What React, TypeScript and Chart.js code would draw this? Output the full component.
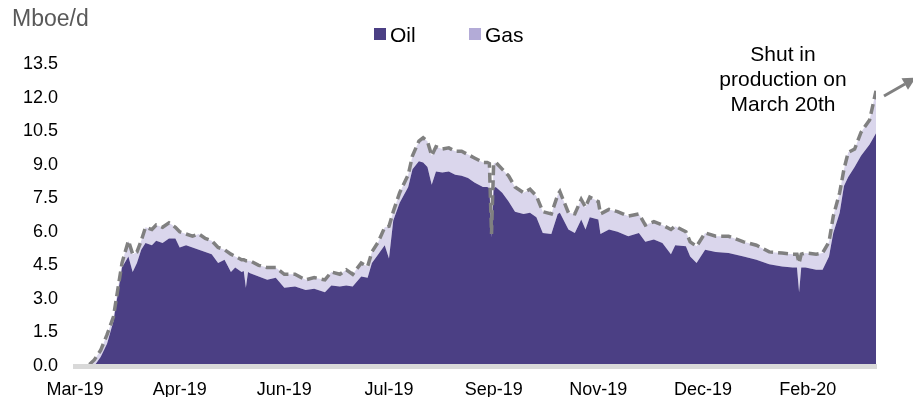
import { useEffect, useRef } from 'react';
import { Chart, registerables } from 'chart.js';

Chart.register(...registerables);

// ---- data ----
const tickLabels = ['Mar-19', 'Apr-19', 'Jun-19', 'Jul-19', 'Sep-19', 'Nov-19', 'Dec-19', 'Feb-20'];
const tickStepDays = 49;
const lastDay = 375;

const days = [
  0, 6, 9, 12, 15, 18, 20, 22, 25, 27,
  29, 31, 33, 36, 38, 41, 44, 47, 49, 52,
  55, 58, 61, 64, 67, 70, 73, 75, 78, 79,
  80, 81, 82, 86, 90, 94, 98, 103, 108, 112,
  117, 120, 124, 127, 130, 134, 137, 139, 142, 145,
  147, 149, 152, 156, 158, 161, 163, 165, 167, 169,
  172, 175, 178, 181, 184, 187, 191, 193, 194, 195,
  196, 197, 200, 203, 206, 210, 213, 216, 219, 223,
  226, 227, 231, 234, 237, 239, 241, 245, 246, 250,
  254, 259, 264, 267, 271, 275, 279, 281, 286, 288,
  291, 295, 300, 306, 313, 319, 325, 331, 336, 338,
  339, 340, 342, 347, 350, 353, 355, 358, 360, 362,
  365, 368, 372, 375,
];

const totalValues = [
  0, 0, 0.27, 0.7, 1.4, 2.2, 3.4, 4.6, 5.6, 5.0,
  5.1, 5.6, 6.2, 6.1, 6.3, 6.2, 6.4, 6.2, 6.0, 5.9,
  5.8, 5.9, 5.7, 5.6, 5.3, 5.2, 5.0, 4.9, 4.75, 4.75,
  4.7, 4.7, 4.7, 4.5, 4.4, 4.4, 4.1, 4.1, 3.85, 3.95,
  3.85, 4.2, 4.1, 4.3, 4.1, 4.6, 4.45, 5.1, 5.55, 6.2,
  6.25, 6.9, 7.75, 8.55, 9.4, 10.05, 10.2, 10.05, 9.4, 9.8,
  9.7, 9.75, 9.6, 9.6, 9.45, 9.3, 9.1, 9.1, 9.05, 5.9,
  9.05, 9.1, 8.8, 8.5, 8.0, 7.75, 7.9, 7.6, 6.9, 6.8,
  7.65, 7.8, 6.85, 6.8, 7.45, 7.1, 7.55, 7.35, 6.8, 7.0,
  6.9, 6.7, 6.8, 6.3, 6.45, 6.3, 6.1, 6.25, 6.0, 5.55,
  5.35, 5.95, 5.8, 5.8, 5.55, 5.4, 5.1, 5.05, 5.0, 5.0,
  4.6, 5.0, 5.05, 5.0, 5.05, 5.55, 6.7, 7.75, 8.8, 9.55,
  9.7, 10.45, 11.0, 12.3,
];

const oilValues = [
  0, 0, 0, 0.4, 1.0, 2.0, 3.2, 4.4, 4.9, 4.2,
  4.6, 5.2, 5.5, 5.4, 5.6, 5.5, 5.7, 5.7, 5.3, 5.4,
  5.3, 5.2, 5.1, 5.0, 4.6, 4.75, 4.2, 4.4, 4.2, 4.25,
  3.5, 4.2, 4.15, 4.0, 3.85, 3.95, 3.5, 3.55, 3.4, 3.45,
  3.3, 3.6, 3.55, 3.6, 3.55, 4.0, 3.95, 4.6, 5.0, 5.4,
  4.8, 6.5, 7.3, 8.0, 8.8, 9.15, 9.1, 8.9, 8.1, 8.7,
  8.65, 8.7, 8.55, 8.5, 8.4, 8.2, 8.0, 8.0, 7.95, 5.75,
  7.95, 8.0, 7.75, 7.35, 6.9, 6.8, 6.85, 6.65, 5.95, 5.9,
  6.8, 6.85, 6.1, 5.95, 6.55, 6.1, 6.65, 6.55, 5.9, 6.1,
  6.0, 5.8, 5.95, 5.55, 5.65, 5.5, 5.0, 5.4, 5.35, 4.9,
  4.6, 5.2, 5.1, 5.05, 4.9, 4.75, 4.55, 4.45, 4.4, 4.4,
  3.3, 4.4, 4.4, 4.3, 4.3, 4.9, 5.95, 6.85, 8.05, 8.45,
  8.9, 9.4, 9.9, 10.4,
];

const legendLabels = ['Oil', 'Gas'];
const unitLabel = 'Mboe/d';
const noteLines = ['Shut in', 'production on', 'March 20th'];

// ---- styles ----
const OIL = '#4B3F84';
const GAS_FILL = '#DAD6EC';
const GAS_KEY = '#B3ABD7';
const LINE = '#808080';
const AXIS = '#D9D9D9';
const FONT = "'Liberation Sans', Arial, Helvetica, sans-serif";

export default function App() {
  const ref = useRef<HTMLCanvasElement>(null);

  useEffect(() => {
    document.body.style.margin = '0';
    const canvas = ref.current;
    if (!canvas) return;

    const overlay = {
      id: 'overlay',
      afterDraw(chart: any) {
        const ctx = chart.ctx as CanvasRenderingContext2D;
        ctx.save();
        // unit label
        ctx.font = `23px ${FONT}`;
        ctx.fillStyle = '#595959';
        ctx.textAlign = 'left';
        ctx.textBaseline = 'alphabetic';
        ctx.fillText(unitLabel, 12, 26);

        // legend
        const keyColors = [OIL, GAS_KEY];
        const keyX = [374, 469];
        ctx.font = `21px ${FONT}`;
        legendLabels.forEach((lab, i) => {
          ctx.fillStyle = keyColors[i];
          ctx.fillRect(keyX[i], 28, 12, 12);
          ctx.fillStyle = '#000';
          ctx.fillText(lab, keyX[i] + 16, 42);
        });

        // note
        ctx.font = `21px ${FONT}`;
        ctx.textAlign = 'center';
        ctx.fillStyle = '#000';
        noteLines.forEach((t, i) => ctx.fillText(t, 783, 61 + i * 25));

        // arrow
        ctx.strokeStyle = LINE;
        ctx.fillStyle = LINE;
        ctx.lineWidth = 3;
        ctx.beginPath();
        ctx.moveTo(884, 96);
        ctx.lineTo(905, 84);
        ctx.stroke();
        const tip = { x: 916, y: 77.5 };
        const dir = { x: 0.866, y: -0.5 };
        const bx = tip.x - 13 * dir.x;
        const by = tip.y - 13 * dir.y;
        const px = 0.5 * 6.5;
        const py = 0.866 * 6.5;
        ctx.beginPath();
        ctx.moveTo(tip.x, tip.y);
        ctx.lineTo(bx + px, by + py);
        ctx.lineTo(bx - px, by - py);
        ctx.closePath();
        ctx.fill();
        ctx.restore();
      },
    };

    const totalPts = days.map((d, i) => ({ x: d, y: totalValues[i] }));
    const oilPts = days.map((d, i) => ({ x: d, y: oilValues[i] }));

    const chart = new Chart(canvas, {
      type: 'line',
      data: {
        datasets: [
          {
            label: 'Total',
            data: totalPts,
            borderColor: LINE,
            borderWidth: 3.5,
            borderDash: [10, 5],
            pointRadius: 0,
            fill: false,
            tension: 0,
          },
          {
            label: legendLabels[0],
            data: oilPts,
            borderWidth: 0,
            borderColor: OIL,
            backgroundColor: OIL,
            pointRadius: 0,
            fill: 'origin',
            tension: 0,
          },
          {
            label: legendLabels[1],
            data: totalPts,
            borderWidth: 0,
            borderColor: GAS_FILL,
            backgroundColor: GAS_FILL,
            pointRadius: 0,
            fill: 1,
            tension: 0,
          },
        ],
      },
      options: {
        responsive: false,
        animation: false,
        devicePixelRatio: 1,
        layout: { padding: { left: 0, right: 37, top: 64, bottom: 4 } },
        plugins: {
          legend: { display: false },
          tooltip: { enabled: false },
          title: { display: false },
        },
        scales: {
          x: {
            type: 'linear',
            min: 0,
            max: lastDay,
            grid: { display: false, drawTicks: false },
            border: { display: true, color: AXIS, width: 5, z: 1 },
            ticks: {
              stepSize: tickStepDays,
              includeBounds: false,
              autoSkip: false,
              maxRotation: 0,
              padding: 13,
              color: '#000',
              font: { size: 18, family: FONT },
              callback: (v: any) => {
                const n = Number(v);
                return n % tickStepDays === 0 ? tickLabels[n / tickStepDays] ?? '' : '';
              },
            },
            afterFit: (s: any) => {
              s.height = 31;
            },
          },
          y: {
            min: 0,
            max: 13.5,
            grid: { display: false, drawTicks: false },
            border: { display: false },
            ticks: {
              stepSize: 1.5,
              padding: 17,
              color: '#000',
              font: { size: 18, family: FONT },
              callback: (v: any) => Number(v).toFixed(1),
            },
            afterFit: (s: any) => {
              s.width = 75;
            },
          },
        },
      },
      plugins: [overlay],
    } as any);

    return () => chart.destroy();
  }, []);

  return (
    <div style={{ position: 'absolute', left: 0, top: 0, width: 913, height: 401 }}>
      <canvas ref={ref} width={913} height={401} style={{ display: 'block' }} />
    </div>
  );
}
